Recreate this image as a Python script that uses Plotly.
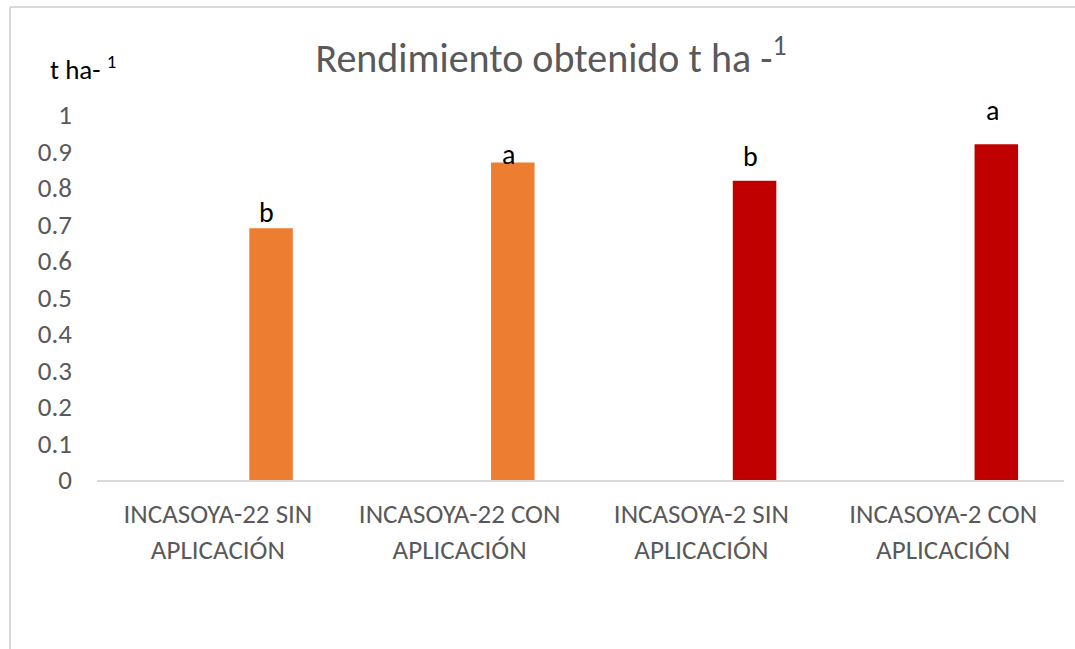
import plotly.graph_objects as go

categories = ["INCASOYA-22 SIN<br>APLICACIÓN", "INCASOYA-22 CON<br>APLICACIÓN",
              "INCASOYA-2 SIN<br>APLICACIÓN", "INCASOYA-2 CON<br>APLICACIÓN"]
values = [0.69, 0.87, 0.82, 0.92]
letters = ["b", "a", "b", "a"]
colors = ["#ED7D31", "#ED7D31", "#C00000", "#C00000"]
yticks = [0, 0.1, 0.2, 0.3, 0.4, 0.5, 0.6, 0.7, 0.8, 0.9, 1]
yticklabels = ["0", "0.1", "0.2", "0.3", "0.4", "0.5", "0.6", "0.7", "0.8", "0.9", "1"]

FONT = "Carlito, Liberation Sans Narrow, Open Sans, sans-serif"
W, H = 1075, 649
L, R, T, B = 97, 11, 115, 169
pw, ph = W - L - R, H - T - B

fig = go.Figure()
fig.add_trace(go.Bar(x=categories, y=values, marker=dict(color=colors, line=dict(width=0)),
                     width=0.18, offset=0.13, hoverinfo="x+y"))

letter_shift = [-4, -12, 5, 14]
for c, v, l, s in zip(categories, values, letters, letter_shift):
    fig.add_annotation(x=c, y=v, text=l, showarrow=False, xshift=49, yshift=s,
                       yanchor="bottom", font=dict(family=FONT, size=28, color="#000000"))

def px(xp):
    return (xp - L) / pw

def py(yp):
    return (H - B - yp) / ph

fig.add_shape(type="line", xref="paper", yref="paper", x0=px(10), x1=px(1080), y0=py(7), y1=py(7),
              line=dict(color="#D9D9D9", width=2))
fig.add_shape(type="line", xref="paper", yref="paper", x0=px(10), x1=px(10), y0=py(7), y1=py(660),
              line=dict(color="#D9D9D9", width=2))

fig.add_annotation(xref="paper", yref="paper", x=px(48), y=py(68), xanchor="left", yanchor="middle",
                   text="t ha- <sup>1</sup>", showarrow=False,
                   font=dict(family=FONT, size=27, color="#000000"))

fig.update_layout(
    width=W, height=H,
    margin=dict(l=L, r=R, t=T, b=B),
    paper_bgcolor="white", plot_bgcolor="white",
    showlegend=False,
    title=dict(text="Rendimiento obtenido t ha -<sup>1</sup>", x=551 / W, xanchor="center",
               y=1 - 58 / H, yanchor="middle",
               font=dict(family=FONT, size=40, color="#595959")),
    xaxis=dict(showgrid=False, showline=True, linecolor="#D9D9D9", linewidth=2, ticks="",
               tickfont=dict(family=FONT, size=27, color="#595959"), range=[-0.5, 3.5],
               zeroline=False, ticklabelstandoff=9),
    yaxis=dict(range=[0, 1], tickvals=yticks, ticktext=yticklabels, showgrid=False, showline=False,
               zeroline=False, ticks="", tickfont=dict(family=FONT, size=27, color="#595959"),
               ticklabelstandoff=24),
)

fig.write_html("out.html", config={"displayModeBar": False},
               post_script="document.body.style.margin='0';")
